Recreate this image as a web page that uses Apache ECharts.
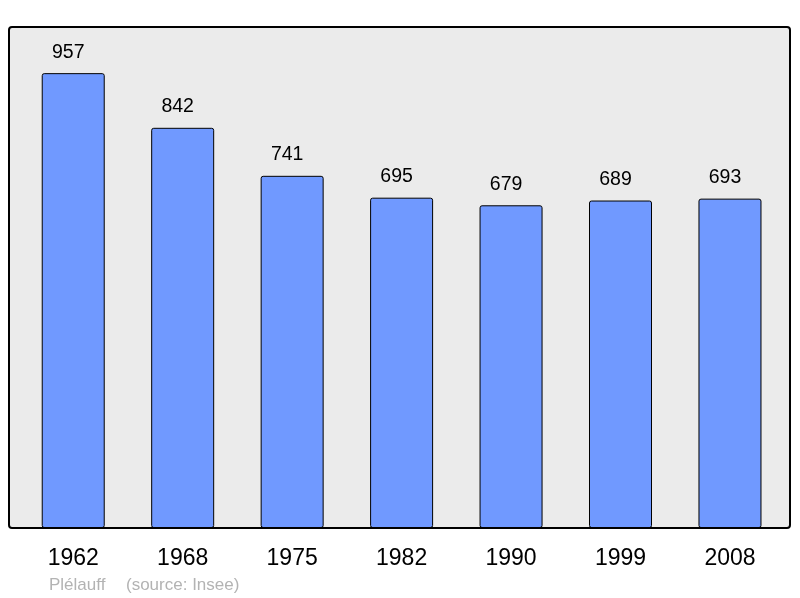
<!DOCTYPE html>
<html>
<head>
<meta charset="utf-8">
<script src="https://cdn.jsdelivr.net/npm/echarts@6/dist/echarts.min.js"></script>
<style>
html,body{margin:0;padding:0;background:#fff;}
#chart{width:800px;height:598px;}
</style>
</head>
<body>
<div id="chart"></div>
<script>
const years = ['1962','1968','1975','1982','1990','1999','2008'];
const population = [957, 842, 741, 695, 679, 689, 693];
const placeName = 'Plélauff';
const sourceText = '(source: Insee)';

const chart = echarts.init(document.getElementById('chart'), null, {renderer: 'canvas'});
const FONT = '"Liberation Sans", Arial, sans-serif';
chart.setOption({
  animation: false,
  backgroundColor: '#ffffff',
  grid: {left: 18.5, right: 15.3, top: 28, bottom: 70, containLabel: false},
  xAxis: {
    type: 'category',
    data: years,
    boundaryGap: true,
    axisLine: {show: false},
    axisTick: {show: false},
    axisLabel: {fontFamily: FONT, fontSize: 23, color: '#000', margin: 19}
  },
  yAxis: {
    type: 'value',
    min: 0,
    max: 1052,
    show: false,
    splitLine: {show: false}
  },
  graphic: [
    {type: 'rect', z: -10, shape: {x: 9, y: 27, width: 781, height: 501, r: 3},
     style: {fill: '#ebebeb', stroke: null}},
    {type: 'rect', z: 100, shape: {x: 9, y: 27, width: 781, height: 501, r: 3},
     style: {fill: null, stroke: '#000', lineWidth: 2}},
    {type: 'text', left: 49, top: 577, style: {text: placeName, fontFamily: FONT, fontSize: 17, fill: '#b3b3b3'}},
    {type: 'text', left: 126, top: 577, style: {text: sourceText, fontFamily: FONT, fontSize: 17, fill: '#b3b3b3'}}
  ],
  series: [{
    type: 'bar',
    data: population,
    barWidth: 63,
    itemStyle: {color: '#7099ff', borderColor: '#000', borderWidth: 1, borderRadius: 2},
    label: {show: true, position: 'top', distance: 11, offset: [-5, 0], fontFamily: FONT, fontSize: 19.5, color: '#000'}
  }]
});
</script>
</body>
</html>
